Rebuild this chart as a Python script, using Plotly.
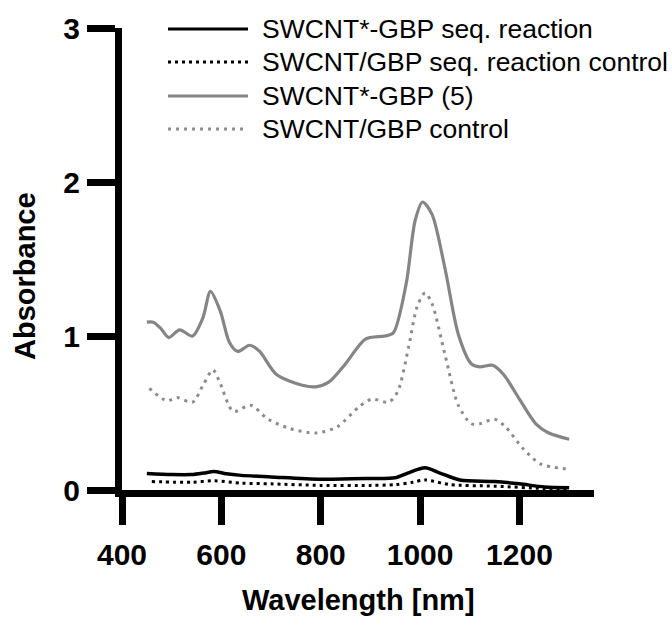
import plotly.graph_objects as go

# ---- data ----
wl_gbp5 = [450, 463, 478, 494, 516, 542, 563, 578, 598, 616, 633, 657, 677, 711, 763, 790,
           816, 850, 890, 929, 946, 972, 990, 1005, 1024, 1050, 1077, 1103, 1120, 1146,
           1168, 1198, 1233, 1259, 1300]
abs_gbp5 = [1.09, 1.09, 1.05, 0.99, 1.04, 1.00, 1.12, 1.29, 1.16, 0.96, 0.90, 0.94, 0.90, 0.75,
            0.68, 0.67, 0.70, 0.82, 0.98, 1.00, 1.02, 1.34, 1.75, 1.87, 1.79, 1.44, 1.01,
            0.82, 0.80, 0.81, 0.75, 0.60, 0.43, 0.37, 0.33]

wl_ctrl = [455, 490, 511, 542, 563, 583, 598, 624, 659, 694, 737, 790, 833, 877, 903, 937,
           955, 977, 994, 1010, 1024, 1050, 1077, 1103, 1120, 1150, 1172, 1207, 1242, 1300]
abs_ctrl = [0.66, 0.58, 0.60, 0.57, 0.68, 0.78, 0.69, 0.51, 0.55, 0.46, 0.40, 0.37, 0.41,
            0.54, 0.59, 0.57, 0.64, 0.93, 1.19, 1.28, 1.21, 0.88, 0.55, 0.43, 0.43, 0.46,
            0.41, 0.27, 0.17, 0.135]

wl_seq = [450, 500, 540, 565, 585, 610, 640, 700, 800, 900, 950, 975, 1010, 1040, 1080,
          1150, 1200, 1250, 1300]
abs_seq = [0.107, 0.10, 0.10, 0.11, 0.12, 0.105, 0.095, 0.085, 0.07, 0.075, 0.08, 0.11,
           0.145, 0.11, 0.065, 0.055, 0.04, 0.02, 0.015]

wl_seqctrl = [460, 540, 585, 640, 700, 800, 900, 950, 985, 1010, 1060, 1150, 1250, 1300]
abs_seqctrl = [0.055, 0.05, 0.06, 0.045, 0.04, 0.03, 0.03, 0.035, 0.05, 0.065, 0.035, 0.025,
               0.01, 0.01]

series_names = ["SWCNT*-GBP seq. reaction", "SWCNT/GBP seq. reaction control",
                "SWCNT*-GBP (5)", "SWCNT/GBP control"]
series_x = [wl_seq, wl_seqctrl, wl_gbp5, wl_ctrl]
series_y = [abs_seq, abs_seqctrl, abs_gbp5, abs_ctrl]
series_color = ["#000000", "#000000", "#858585", "#8c8c8c"]
series_dash = ["solid", "3px,4px", "solid", "3px,5px"]
series_width = [3.5, 3, 3.2, 3]

x_ticks = [400, 600, 800, 1000, 1200]
y_ticks = [0, 1, 2, 3]

# ---- layout geometry (pixels) ----
W, H = 672, 619
L, R, T, B = 122, 594, 28, 490

fig = go.Figure()
for name, xs, ys, c, d, w in zip(series_names, series_x, series_y, series_color,
                                 series_dash, series_width):
    fig.add_trace(go.Scatter(x=xs, y=ys, mode="lines", name=name, showlegend=False,
                             line=dict(color=c, dash=d, width=w, shape="spline",
                                       smoothing=0.8)))

def px_x(p):
    return (p - L) / (R - L)

def px_y(p):
    return (B - p) / (B - T)

# manual legend (long line keys as in the reference)
leg_rows = [29, 62, 96, 129]
shapes = []
annotations = []
for name, c, d, row in zip(series_names, series_color, series_dash, leg_rows):
    shapes.append(dict(type="line", xref="paper", yref="paper",
                       x0=px_x(168), x1=px_x(248), y0=px_y(row), y1=px_y(row),
                       line=dict(color=c, width=3, dash=d)))
    annotations.append(dict(text=name, xref="paper", yref="paper", x=px_x(260),
                            y=px_y(row), xanchor="left", yanchor="middle",
                            showarrow=False,
                            font=dict(family="Liberation Sans", size=26.5, color="#000")))

annotations.append(dict(text="<b>Wavelength [nm]</b>", xref="paper", yref="paper",
                        x=px_x(358), y=px_y(600), xanchor="center", yanchor="middle",
                        showarrow=False,
                        font=dict(family="Liberation Sans", size=29, color="#000")))
annotations.append(dict(text="<b>Absorbance</b>", xref="paper", yref="paper",
                        x=px_x(25), y=px_y(276), xanchor="center", yanchor="middle",
                        textangle=-90, showarrow=False,
                        font=dict(family="Liberation Sans", size=29, color="#000")))

axis_common = dict(showgrid=False, zeroline=False, showline=True, linecolor="#000",
                   linewidth=7, ticks="outside", ticklen=28, tickwidth=7, tickcolor="#000",
                   tickfont=dict(family="Liberation Sans", size=30, color="#000",
                                 weight="bold"))

fig.update_layout(
    width=W, height=H,
    margin=dict(l=L, r=W - R, t=T, b=H - B, pad=0),
    paper_bgcolor="white", plot_bgcolor="white",
    xaxis=dict(range=[400, 1350], tickvals=x_ticks, **axis_common),
    yaxis=dict(range=[0, 3], tickvals=y_ticks, **axis_common),
    shapes=shapes, annotations=annotations,
)
fig.update_xaxes(ticklabelstandoff=4)
fig.update_yaxes(ticklabelstandoff=1)

fig.write_html("out.html")
